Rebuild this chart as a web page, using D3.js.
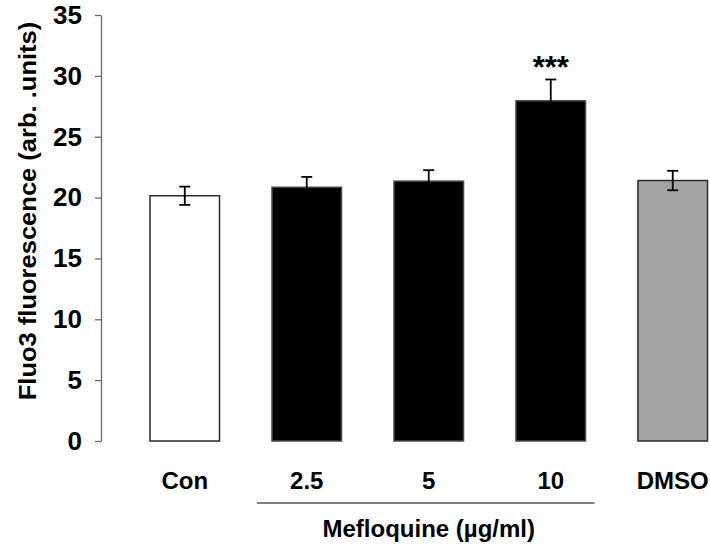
<!DOCTYPE html>
<html>
<head>
<meta charset="utf-8">
<script src="https://cdn.jsdelivr.net/npm/d3@7"></script>
<style>
  body { margin: 0; background: #fff; }
  text { font-family: "Liberation Sans", Arial, sans-serif; font-weight: bold; }
</style>
</head>
<body>
<div id="chart"></div>
<script>
// datos
const categories = ["Con", "2.5", "5", "10", "DMSO"];
const means = [20.15, 20.85, 21.35, 27.95, 21.4];
const errors = [0.75, 0.85, 0.9, 1.75, 0.8];
const stars = ["", "", "", "***", ""];
const yTicks = [0, 5, 10, 15, 20, 25, 30, 35];
const groupCats = ["2.5", "5", "10"];
const groupLabel = "Mefloquine (µg/ml)";
const yLabel = "Fluo3 fluorescence (arb. .units)";

const data = categories.map((c, i) => ({ cat: c, mean: means[i], err: errors[i], star: stars[i] }));

const svgWidth = 710, svgHeight = 545;

const svg = d3.select("#chart")
    .append("svg")
    .attr("width", svgWidth)
    .attr("height", svgHeight);

const x = d3.scaleBand()
    .domain(categories)
    .range([150, 707.5])
    .paddingInner(0.43)
    .paddingOuter(0);

const y = d3.scaleLinear()
    .domain([0, 35])
    .range([441, 15]);

// colores
const fill = d3.scaleOrdinal()
    .domain(categories)
    .range(["#ffffff", "#000000", "#000000", "#000000", "#a4a4a4"]);
const edge = d3.scaleOrdinal()
    .domain(categories)
    .range(["#2b2b2b", "#4a4a4a", "#4a4a4a", "#4a4a4a", "#2b2b2b"]);

// barras
svg.selectAll(".bar")
    .data(data)
    .enter().append("rect")
    .attr("class", "bar")
    .attr("x", d => x(d.cat))
    .attr("y", d => y(d.mean))
    .attr("width", x.bandwidth())
    .attr("height", d => y(0) - y(d.mean))
    .attr("fill", d => fill(d.cat))
    .attr("stroke", d => edge(d.cat))
    .attr("stroke-width", 1.5);

// barras de error
const eb = svg.selectAll(".err")
    .data(data)
    .enter().append("g")
    .attr("class", "err")
    .attr("stroke", "#000")
    .attr("stroke-width", 1.8);

eb.append("line")
    .attr("x1", d => x(d.cat) + x.bandwidth() / 2)
    .attr("x2", d => x(d.cat) + x.bandwidth() / 2)
    .attr("y1", d => y(d.mean - d.err))
    .attr("y2", d => y(d.mean + d.err));

eb.append("line")
    .attr("x1", d => x(d.cat) + x.bandwidth() / 2 - 5.5)
    .attr("x2", d => x(d.cat) + x.bandwidth() / 2 + 5.5)
    .attr("y1", d => y(d.mean + d.err))
    .attr("y2", d => y(d.mean + d.err));

eb.append("line")
    .attr("x1", d => x(d.cat) + x.bandwidth() / 2 - 5.5)
    .attr("x2", d => x(d.cat) + x.bandwidth() / 2 + 5.5)
    .attr("y1", d => y(d.mean - d.err))
    .attr("y2", d => y(d.mean - d.err));

// asteriscos
svg.selectAll(".star")
    .data(data.filter(d => d.star))
    .enter().append("text")
    .attr("class", "star")
    .attr("x", d => x(d.cat) + x.bandwidth() / 2)
    .attr("y", d => y(d.mean + d.err) - 1.5)
    .attr("text-anchor", "middle")
    .attr("font-size", 31)
    .text(d => d.star);

// eje y
const yAxis = svg.append("g")
    .attr("transform", "translate(101,0)")
    .call(d3.axisLeft(y).tickValues(yTicks).tickSize(6).tickSizeOuter(0).tickPadding(13));

yAxis.select(".domain").attr("stroke", "#6a6a6a").attr("stroke-width", 1.3);
yAxis.selectAll(".tick line").attr("stroke", "#6a6a6a").attr("stroke-width", 1.3);
yAxis.selectAll(".tick text")
    .attr("font-size", 26)
    .attr("font-family", "Liberation Sans, Arial, sans-serif")
    .attr("font-weight", "bold")
    .attr("fill", "#000");

svg.append("text")
    .attr("transform", "translate(36,211) scale(1,1.11) rotate(-90)")
    .attr("text-anchor", "middle")
    .attr("font-size", 23)
    .text(yLabel);

// etiquetas x
svg.selectAll(".xlab")
    .data(categories)
    .enter().append("text")
    .attr("class", "xlab")
    .attr("x", d => x(d) + x.bandwidth() / 2)
    .attr("y", 489)
    .attr("text-anchor", "middle")
    .attr("font-size", 24)
    .text(d => d);

// linea de grupo
const gx0 = x(groupCats[0]) - 15;
const gx1 = x(groupCats[groupCats.length - 1]) + x.bandwidth() + 9;
svg.append("line")
    .attr("x1", gx0)
    .attr("x2", gx1)
    .attr("y1", 503)
    .attr("y2", 503)
    .attr("stroke", "#555")
    .attr("stroke-width", 1.5);

svg.append("text")
    .attr("x", (gx0 + gx1) / 2 + 3)
    .attr("y", 537)
    .attr("text-anchor", "middle")
    .attr("font-size", 24)
    .text(groupLabel);
</script>
</body>
</html>
